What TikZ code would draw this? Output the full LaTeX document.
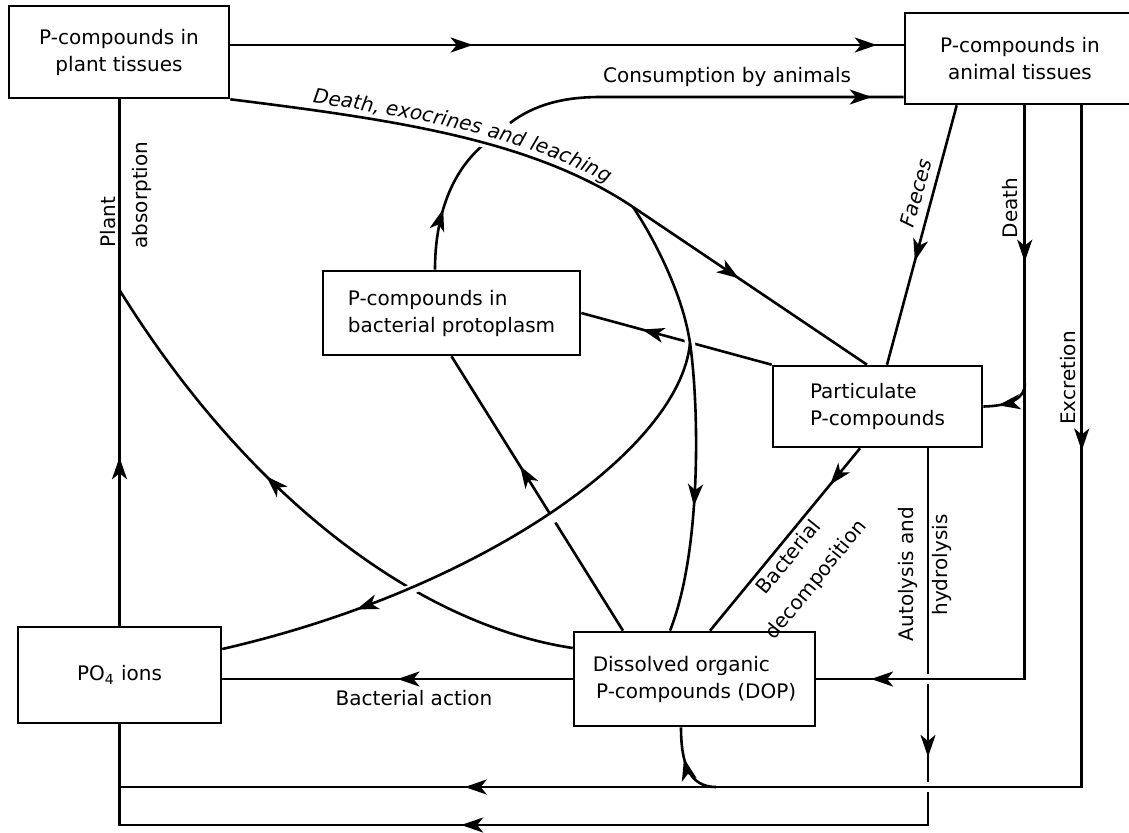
\documentclass[tikz,border=0pt]{standalone}
\usepackage{fontspec}
\setmainfont{DejaVu Sans}
\usetikzlibrary{arrows.meta,decorations.markings,decorations.text}
\tikzset{
  caja/.style={draw,line width=1.3pt,inner sep=0pt,align=center},
  fl/.style={postaction={decorate,decoration={markings,mark=at position #1 with {\arrow{>}}}}},
  frente/.style 2 args={preaction={draw=white,line width=5pt,shorten <=#1,shorten >=#2}},
}
\begin{document}
\begin{tikzpicture}[x=0.5pt,y=-0.5pt,line width=1.3pt,
  >={Stealth[length=11pt,width=7.5pt,inset=3pt]},
  font=\fontsize{10}{13.5}\selectfont]
  \useasboundingbox (0,0) rectangle (1129,832);

  % compartimentos
  \node[caja,minimum width=110pt,minimum height=46pt] (plant) at (119,52) {P-compounds in\\plant tissues};
  \node[caja,minimum width=115pt,minimum height=45.5pt] (animal) at (1020,58.5) {P-compounds in\\animal tissues};
  \node[caja,align=left,minimum width=128.5pt,minimum height=42pt] (bact) at (451.5,313) {P-compounds in\\bacterial protoplasm};
  \node[caja,align=left,minimum width=104.5pt,minimum height=40.5pt] (part) at (877.5,406.5) {Particulate\\P-compounds};
  \node[caja,align=left,minimum width=120.5pt,minimum height=47pt] (dop) at (694.5,679) {Dissolved organic\\\,P-compounds (DOP)};
  \node[caja,minimum width=101.5pt,minimum height=48pt] (po4) at (119.5,675) {PO\textsubscript{4} ions};

  \coordinate (K) at (633,207);
  \coordinate (J) at (690,343);
  \coordinate (M) at (po4.north |- 0,290);
  \coordinate (cA) at ([xshift=-8.25pt]bact.north);
  \coordinate (pT) at ([xshift=-5.25pt]part.north);
  \coordinate (dA) at ([xshift=60.5pt]animal.south west);
  \coordinate (dB) at (dA |- 0,383);
  \coordinate (eA) at ([xshift=89pt]animal.south west);
  \coordinate (eB) at (eA |- 0,787);
  \coordinate (eC) at ([xshift=10.75pt]dop.south |- eB);
  \coordinate (aA) at ([xshift=25.25pt]part.south);

  % flujos de fondo
  \draw[fl=0.36,fl=0.96] ([yshift=3.5pt]plant.east) -- ([yshift=3.5pt]plant.east -| animal.west);
  \draw[fl=0.45] (cA) .. controls (435,215) and (452,172) .. (482,146);
  \draw[fl=0.92] (510,123) .. controls (535,104) and (565,97) .. (600,97) -- (animal.west |- 0,97);
  \draw[fl=0.68] (part.north west) -- (bact.east);
  \draw[fl=0.6] ([xshift=-35.75pt]dop.north) -- (bact.south);
  \draw[fl=0.6] ([yshift=15.5pt]dop.west) .. controls (420,625) and (250,500) .. (M);
  \draw[fl=0.32] (po4.north) -- (po4.north |- plant.south);
  \draw[fl=0.5] (dop.west) -- (dop.west -| po4.east);
  \draw[fl=0.6] ([xshift=26.5pt]animal.south west) -- ([xshift=4.75pt]part.north);
  \draw[fl=0.2] ([xshift=-8.75pt]part.south) -- ([xshift=7.75pt]dop.north);
  \draw[fl=0.24,fl=0.656] (aA) -- (aA |- 0,825) -- (po4.south |- 0,825) -- (po4.south);

  % flujos de frente
  \draw[frente={5pt}{5pt},fl=0.78] (plant.south east) .. controls (397,120) and (533,140) .. (K) -- (pT);
  \path[decorate,decoration={text along path,text={|\fontsize{10}{12}\selectfont\itshape|Death, exocrines and leaching},text align={left indent=41pt},raise=3.5pt}]
    (plant.south east) .. controls (397,120) and (533,140) .. (K);
  \draw[frente={12pt}{5pt},fl=0.71] (K) .. controls (655,240) and (683,295) .. (J)
    .. controls (699,405) and (702,550) .. ([xshift=-12.25pt]dop.north);
  \draw[frente={25pt}{5pt},fl=0.76] (J) .. controls (680,450) and (480,590) .. ([yshift=13pt]po4.east);
  \draw[frente={5pt}{5pt},fl=0.2,fl=0.93] (dA) -- (dA |- dop.east) -- (dop.east);
  \draw[fl=0.72] (dB) .. controls (1026,398) and (1010,406) .. (part.east);
  \draw[frente={5pt}{5pt},fl=0.21,fl=0.79] (eA) -- (eB) -- (eB -| po4.south);
  \draw[fl=0.6] (eC) .. controls (690,787) and (681,765) .. ([xshift=-6.75pt]dop.south);

  % rotulos
  \node[rotate=90] (lplant) at (108,222) {Plant};
  \node[rotate=90] (labs) at (142,195) {absorption};
  \node (lcons) at (727,77) {Consumption by animals};
  \node[rotate=75,font=\fontsize{10}{12}\selectfont\itshape] (lfaeces) at (916,193) {Faeces};
  \node[rotate=90] (ldeath) at (1010,208) {Death};
  \node[rotate=90] (lexcr) at (1068,378) {Excretion};
  \node[rotate=51,align=center,font=\fontsize{10}{17.5}\selectfont] (ldecomp) at (803,569) {Bacterial\\decomposition};
  \node[rotate=90] (lauto) at (908,574) {Autolysis and};
  \node[rotate=90] (lhydro) at (942,565) {hydrolysis};
  \node (lbact) at (414,698) {Bacterial action};
\end{tikzpicture}
\end{document}
